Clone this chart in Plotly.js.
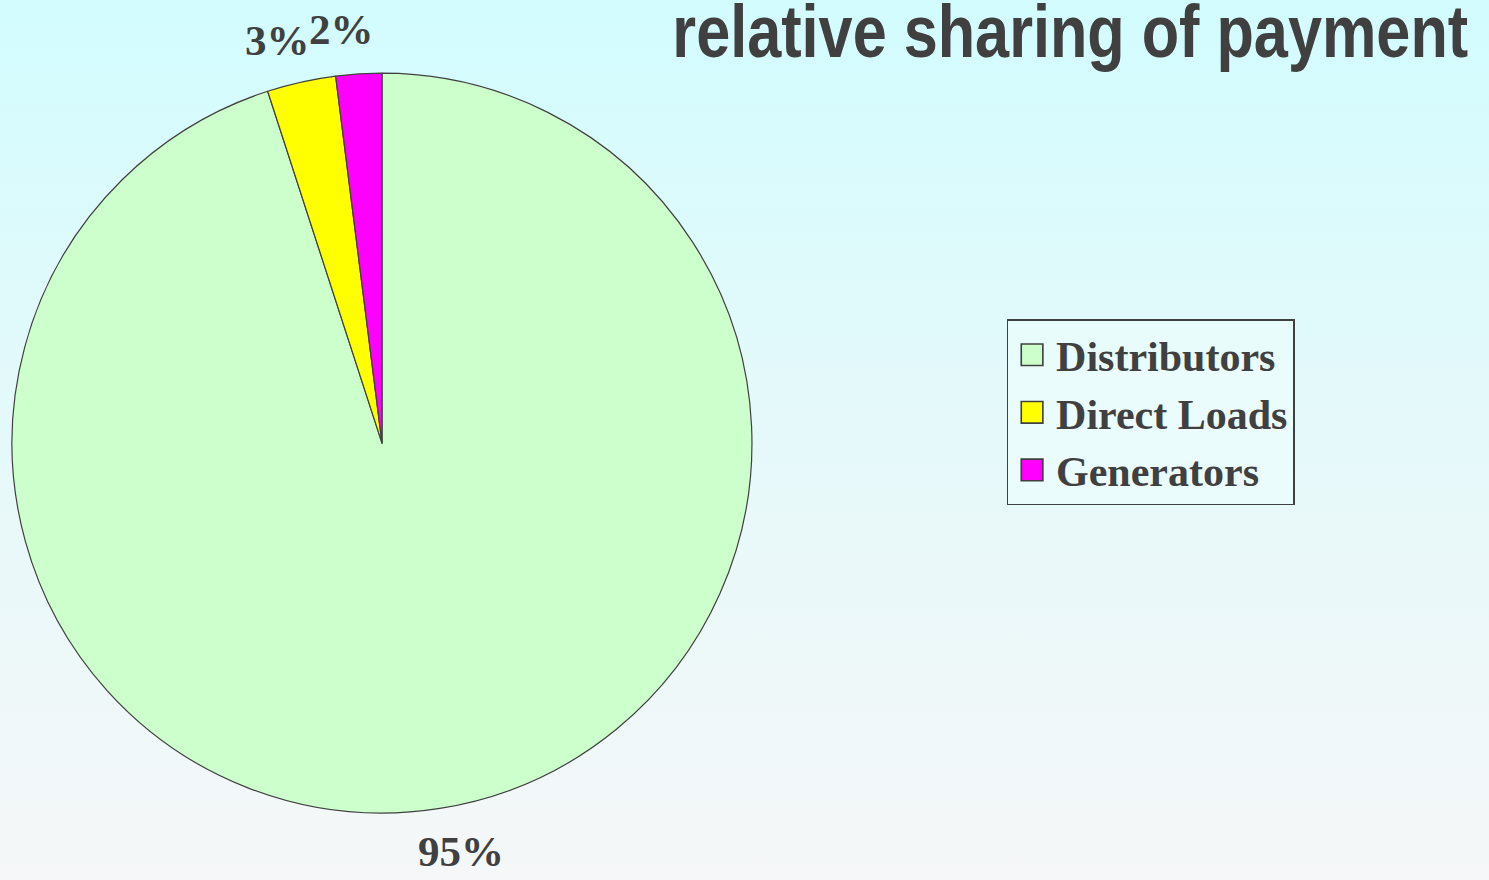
<!DOCTYPE html>
<html>
<head>
<meta charset="utf-8">
<script src="https://cdn.plot.ly/plotly-3.0.1.min.js"></script>
<style>
  html, body { margin: 0; padding: 0; }
  body { background: linear-gradient(to bottom, #d2fcfe 0%, #e4f9fa 45%, #f5f7f8 100%); }
  #myDiv { width: 1489px; height: 880px; }
</style>
</head>
<body>
<div id="myDiv"></div>
<script>
// share of payment by user group
var groups = ['Distributors', 'Direct Loads', 'Generators'];
var shares = [95, 3, 2];
var sliceColors = ['#ccffcc', '#ffff00', '#ff00ff'];

var W = 1489, H = 880;
var pieDomain = {x: [0.0081, 0.505], y: [0.076, 0.917]};
var labelFont = {family: 'Liberation Serif, Times New Roman, serif', size: 43, color: '#404040', weight: 'bold'};

// percent labels sit just outside each slice, near the slice's middle angle
// (nudged a little counter-clockwise, like the original chart)
var cx = (pieDomain.x[0] + pieDomain.x[1]) / 2 * W;
var cy = (1 - (pieDomain.y[0] + pieDomain.y[1]) / 2) * H;
var rad = Math.min((pieDomain.x[1] - pieDomain.x[0]) * W, (pieDomain.y[1] - pieDomain.y[0]) * H) / 2;
var total = shares.reduce(function (a, b) { return a + b; }, 0);
var annotations = [];
var cum = 0;
shares.forEach(function (v) {
    var a = 2 * Math.PI * (cum + v / 2) / total - 2 * Math.PI / 180;  // clockwise from 12 o'clock
    cum += v;
    var R = rad + 46;
    var px = cx + R * Math.sin(a), py = cy - R * Math.cos(a);
    annotations.push({
        xref: 'paper', yref: 'paper', x: px / W, y: 1 - py / H,
        xanchor: 'center', yanchor: 'middle', showarrow: false,
        text: Math.round(100 * v / total) + '%', font: labelFont
    });
});

var data = [{
    type: 'pie',
    labels: groups,
    values: shares,
    sort: false,
    direction: 'clockwise',
    rotation: 0,
    marker: {colors: sliceColors, line: {color: '#404040', width: 1.2}},
    textinfo: 'none',
    textposition: 'none',
    domain: pieDomain,
    hoverinfo: 'label+percent'
}];

var layout = {
    width: W,
    height: H,
    paper_bgcolor: 'rgba(0,0,0,0)',
    plot_bgcolor: 'rgba(0,0,0,0)',
    margin: {l: 0, r: 0, t: 0, b: 0},
    title: {
        text: 'relative sharing of payment',
        font: {family: 'Liberation Sans, Arial, sans-serif', size: 75, color: '#404040', weight: 'bold'},
        x: 0.986, xanchor: 'right',
        y: 1, yanchor: 'top'
    },
    annotations: annotations,
    showlegend: true,
    legend: {
        x: 0.676, xanchor: 'left',
        y: 0.637, yanchor: 'top',
        itemwidth: 38,
        bgcolor: 'rgba(235,252,252,0.8)',
        bordercolor: '#404040',
        borderwidth: 1.5,
        font: {family: 'Liberation Serif, Times New Roman, serif', size: 42, color: '#404040', weight: 'bold'}
    }
};

Plotly.newPlot('myDiv', data, layout, {displayModeBar: false}).then(function () {
    // the title in the reference is a condensed face: squeeze it horizontally, keeping its right edge
    var t = document.querySelector('.gtitle');
    if (t) {
        var bb = t.getBBox();
        var sx = 796 / bb.width;
        var right = bb.x + bb.width;
        t.setAttribute('transform', 'translate(' + (right * (1 - sx)) + ',4) scale(' + sx + ',1)');
    }
    // bigger legend swatches, as in the reference
    document.querySelectorAll('.legendpie').forEach(function (p) {
        p.setAttribute('transform', 'translate(24,0) scale(1.8)');
        p.style.strokeWidth = '0.9px';
    });
});
</script>
</body>
</html>
